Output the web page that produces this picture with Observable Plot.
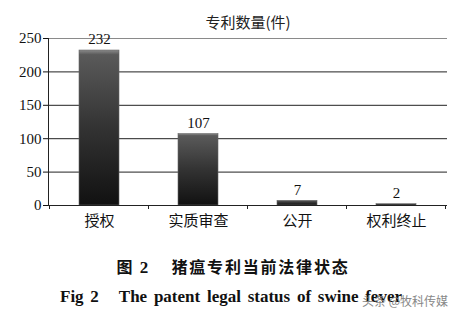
<!DOCTYPE html>
<html>
<head>
<meta charset="utf-8">
<script src="https://cdn.jsdelivr.net/npm/d3@7"></script>
<script src="https://cdn.jsdelivr.net/npm/@observablehq/plot@0.6"></script>
<style>
  html, body { margin: 0; padding: 0; background: #fff; }
  body { position: relative; width: 462px; height: 319px; overflow: hidden; }
  #chart { position: absolute; left: 0; top: 0; }
  .cap { position: absolute; left: 0; width: 462px; text-align: center; font-weight: bold; color: #111; white-space: pre; }
  #capzh { top: 256px; left: 2px; font-family: "Noto Sans CJK SC", sans-serif; font-size: 16px; line-height: 20px; letter-spacing: 1.8px; }
  #capzh .num { font-family: "Liberation Serif", serif; font-size: 17px; letter-spacing: 0; }
  #capen { top: 287px; left: 0px; font-family: "Liberation Serif", serif; font-size: 17px; line-height: 20px; word-spacing: 2.5px; }
  #wm { position: absolute; left: 362px; top: 292px; font-family: "Noto Sans CJK SC", sans-serif; font-size: 12px; color: #888; line-height: 18px; }
</style>
</head>
<body>
<div id="chart"></div>
<div class="cap" id="capzh">图 <span class="num">2</span>　 猪瘟专利当前法律状态</div>
<div class="cap" id="capen">Fig 2   The patent legal status of swine fever</div>
<div id="wm">头条 @牧科传媒</div>
<script>
const categories = ["授权", "实质审查", "公开", "权利终止"];
const values = [232, 107, 7, 2];
const yTicks = [0, 50, 100, 150, 200, 250];
const chartTitle = "专利数量(件)";

const data = categories.map((c, i) => ({category: c, value: values[i]}));

const plot = Plot.plot({
  width: 462,
  height: 232,
  marginLeft: 48,
  marginRight: 15,
  marginTop: 38,
  marginBottom: 27,
  style: {background: "transparent", color: "#111"},
  x: {domain: categories, paddingInner: 0.6, paddingOuter: 0.3, label: null},
  y: {domain: [0, 250], label: null},
  marks: [
    Plot.gridY(yTicks, {stroke: d => d === 250 ? "#8a8a8a" : "#222", strokeOpacity: 1, strokeWidth: 1}),
    Plot.frame({anchor: "left", stroke: "#222"}),
    Plot.barY(data, {x: "category", y: "value", fill: "url(#barGrad)", stroke: "#666", strokeWidth: 0.6}),
    Plot.ruleY([0], {stroke: "#222"}),
    Plot.axisY({ticks: yTicks, tickSize: 5, tickPadding: 2, fontSize: 15, fontFamily: "Liberation Serif, serif", label: null}),
    Plot.axisX({tickSize: 0, tickPadding: 10, fontSize: 15, fontFamily: "Noto Sans CJK SC, sans-serif", label: null}),
    Plot.text(data, {x: "category", y: "value", text: d => String(d.value), dy: -11, fontSize: 15, fontFamily: "Liberation Serif, serif", fill: "#111"}),
    Plot.text([chartTitle], {frameAnchor: "top", dy: -21, fontSize: 15, fontFamily: "Noto Sans CJK SC, sans-serif", fill: "#222"})
  ]
});

// gradient for bars
const svg = d3.select(plot);
const defs = svg.insert("defs", ":first-child");
const g = defs.append("linearGradient").attr("id", "barGrad").attr("x1", 0).attr("y1", 0).attr("x2", 0).attr("y2", 1);
g.append("stop").attr("offset", "0%").attr("stop-color", "#8a8a8a");
g.append("stop").attr("offset", "3%").attr("stop-color", "#5a5a5a");
g.append("stop").attr("offset", "50%").attr("stop-color", "#333");
g.append("stop").attr("offset", "100%").attr("stop-color", "#111");

// boundary tick marks on x axis (between categories)
const xs = plot.scale("x");
const ys = plot.scale("y");
const y0 = ys.apply(0);
const half = (xs.step - xs.bandwidth) / 2;
const bounds = categories.map(c => xs.apply(c) - half).concat([xs.apply(categories[categories.length - 1]) + xs.bandwidth + half]);
svg.append("g").selectAll("line").data(bounds).join("line")
  .attr("x1", d => d).attr("x2", d => d).attr("y1", y0).attr("y2", y0 + 4)
  .attr("stroke", "#222");

document.getElementById("chart").appendChild(plot);
</script>
</body>
</html>
